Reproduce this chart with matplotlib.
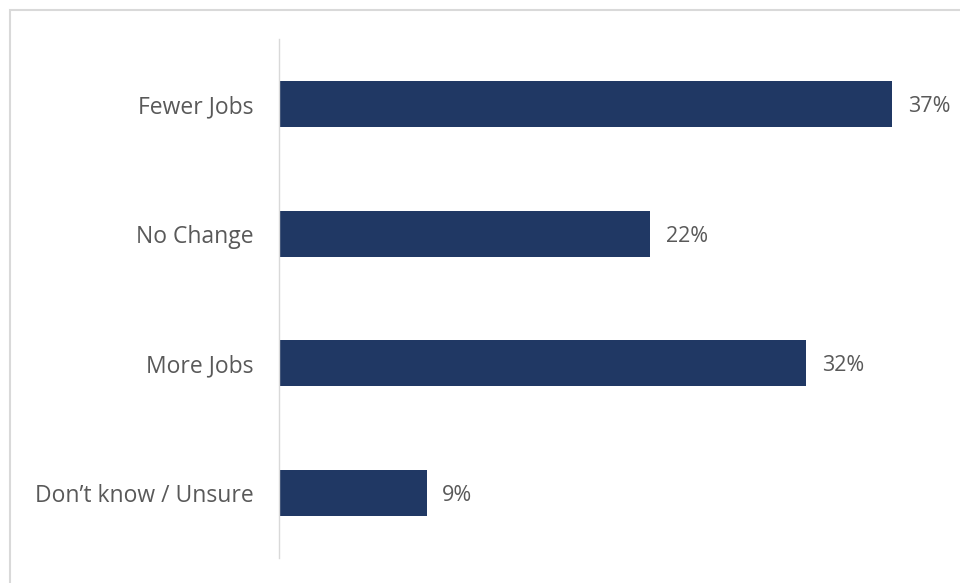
import matplotlib
matplotlib.use("Agg")
import matplotlib.pyplot as plt
from matplotlib.patches import Rectangle

# data (bar lengths, labels rounded)
categories = ["Fewer Jobs", "No Change", "More Jobs", "Don\u2019t know / Unsure"]
values = [37.0, 22.4, 31.8, 8.9]

bar_color = "#203864"
text_color = "#595959"
grid_color = "#D9D9D9"

plt.rcParams["font.family"] = ["Open Sans", "DejaVu Sans"]

fig = plt.figure(figsize=(9.6, 5.83), dpi=100)
W, H = 960, 583

# outer light frame (cut off at right and bottom like the source)
fig.patches.append(Rectangle((10 / W, -0.05), 1.1, (H - 10) / H + 0.05,
                             transform=fig.transFigure, fill=False,
                             edgecolor=grid_color, linewidth=1.5))

ax = fig.add_axes([279 / W, (H - 558) / H, (942 - 279) / W, (558 - 39) / H])

y = list(range(len(categories)))
ax.barh(y, values, height=0.355, color=bar_color)
ax.set_ylim(len(categories) - 0.5, -0.5)
ax.set_xlim(0, 40)

for yi, v in zip(y, values):
    ax.text(v + 0.95, yi, f"{v:.0f}%", va="center_baseline", ha="left",
            fontsize=15.5, color=text_color, clip_on=False)

ax.set_yticks(y)
ax.set_yticklabels(categories, fontsize=16.5, color=text_color)
ax.tick_params(axis="y", length=0, pad=18)
ax.set_xticks([])

for s in ["top", "right", "bottom"]:
    ax.spines[s].set_visible(False)
ax.spines["left"].set_color(grid_color)
ax.spines["left"].set_linewidth(1)

fig.savefig("out.png", dpi=100)
